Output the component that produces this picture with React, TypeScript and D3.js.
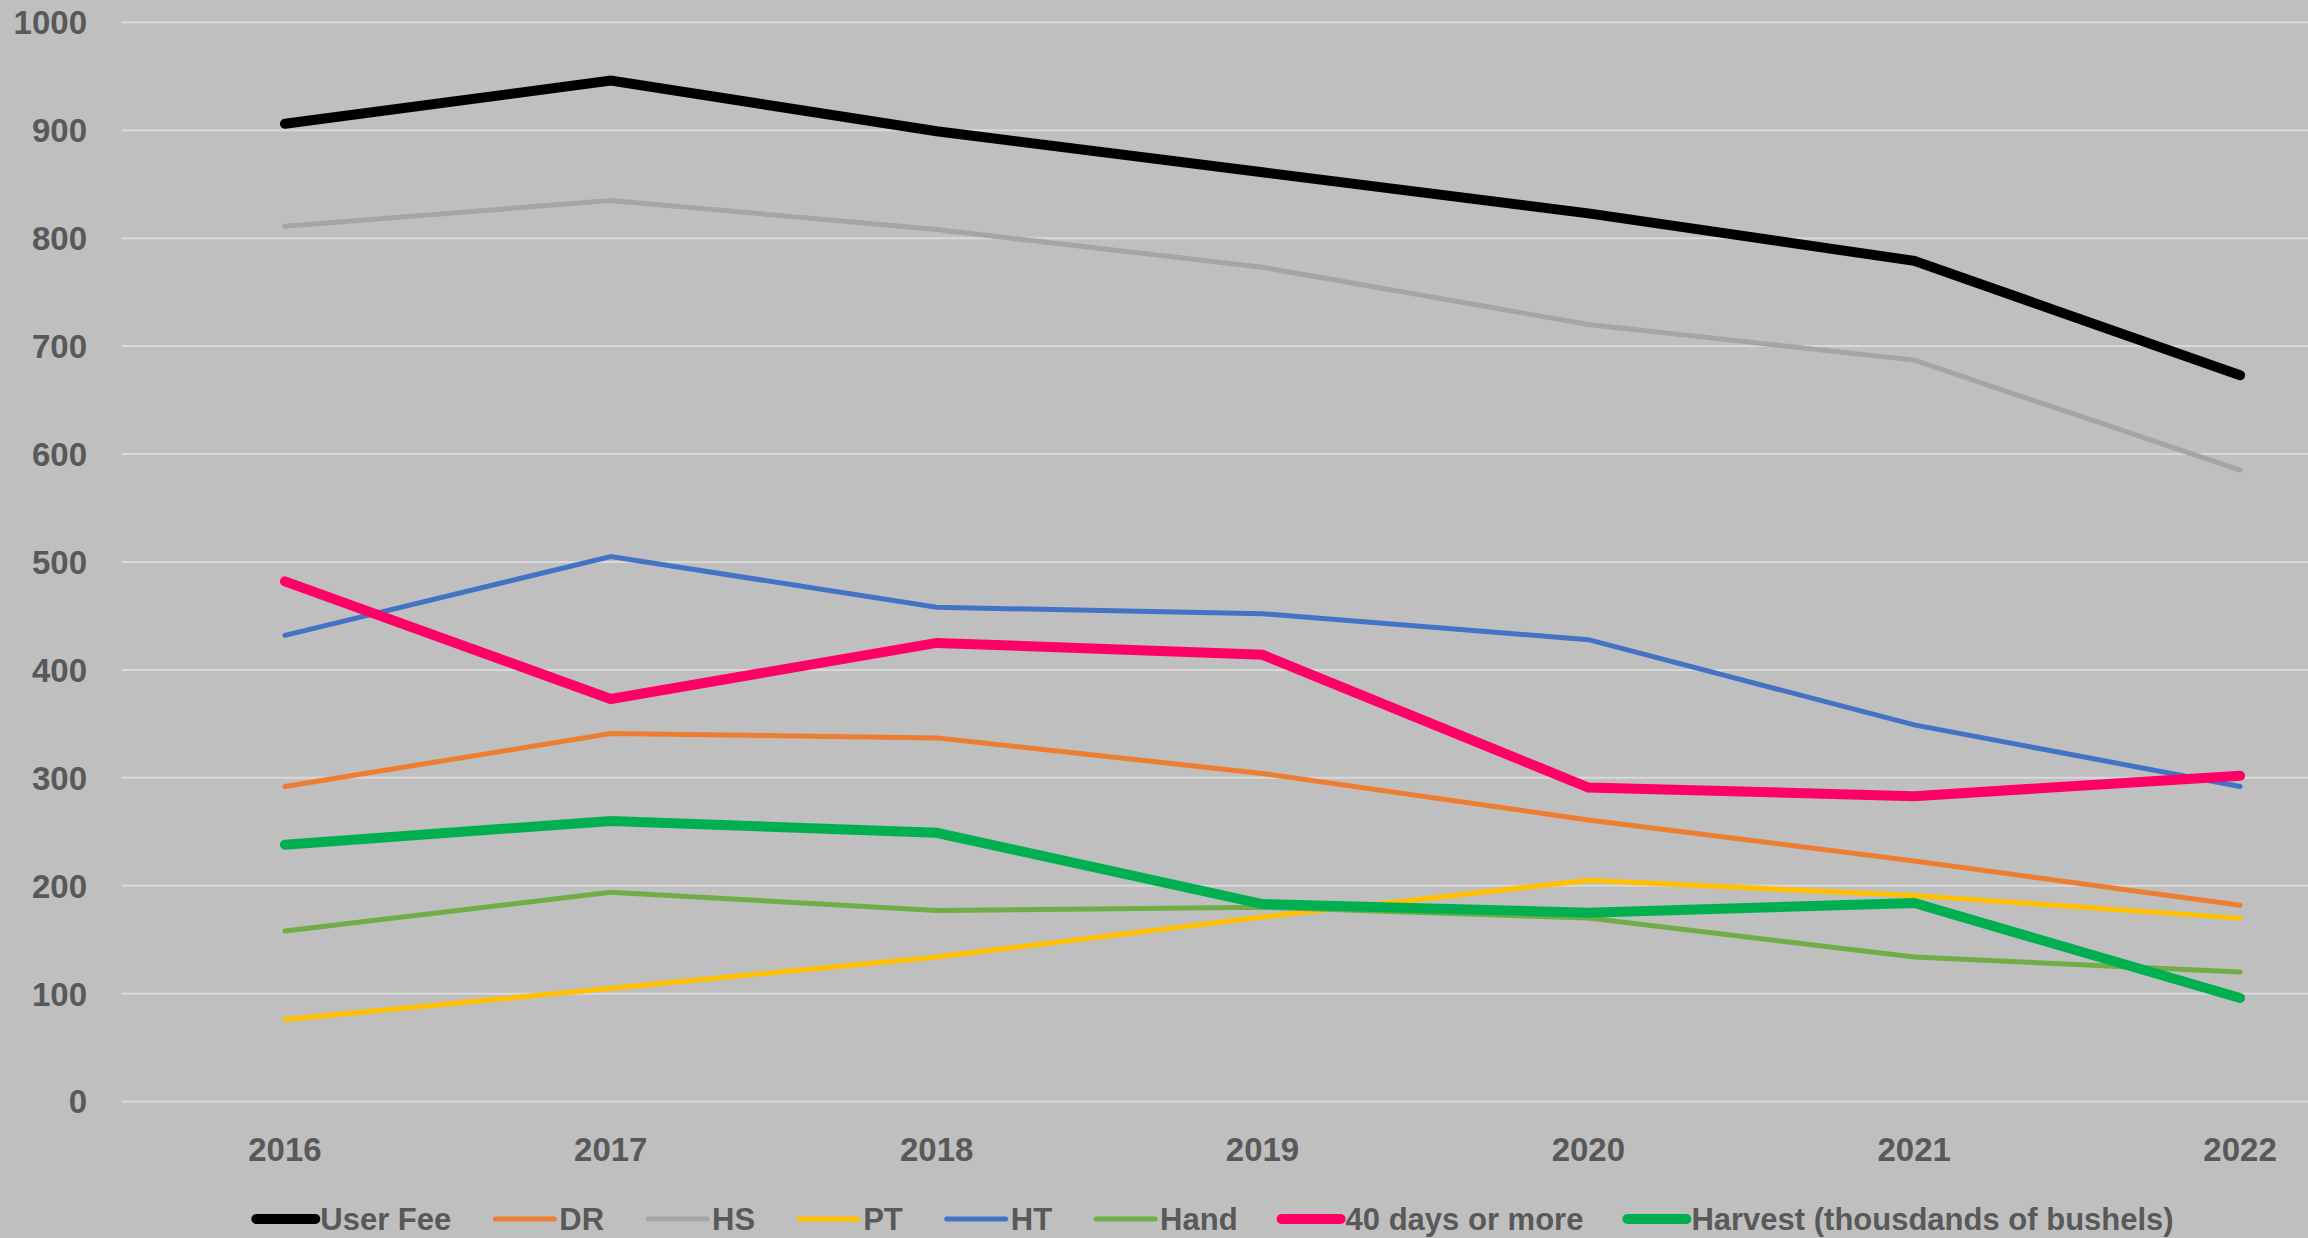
import React, { useEffect, useRef } from "react";
import * as d3 from "d3";

const years = ["2016", "2017", "2018", "2019", "2020", "2021", "2022"];
const yTicks = [0, 100, 200, 300, 400, 500, 600, 700, 800, 900, 1000];

const userFee = [906, 946, 899, 861, 823, 779, 673];
const dr = [292, 341, 337, 304, 261, 223, 182];
const hs = [811, 835, 808, 773, 720, 687, 585];
const pt = [76, 105, 134, 171, 205, 191, 170];
const ht = [432, 505, 458, 452, 428, 349, 292];
const hand = [158, 194, 177, 180, 170, 134, 120];
const days40 = [482, 373, 425, 414, 291, 283, 302];
const harvest = [238, 260, 249, 183, 175, 184, 96];

interface Series {
  name: string;
  values: number[];
  color: string;
  width: number;
}

const series: Series[] = [
  { name: "User Fee", values: userFee, color: "#000000", width: 10 },
  { name: "DR", values: dr, color: "#ED7D31", width: 5 },
  { name: "HS", values: hs, color: "#A5A5A5", width: 5 },
  { name: "PT", values: pt, color: "#FFC000", width: 5 },
  { name: "HT", values: ht, color: "#4472C4", width: 5 },
  { name: "Hand", values: hand, color: "#70AD47", width: 5 },
  { name: "40 days or more", values: days40, color: "#FF0066", width: 10 },
  { name: "Harvest (thousdands of bushels)", values: harvest, color: "#00B050", width: 10 },
];

const W = 2308;
const H = 1238;
const FONT = "'Liberation Sans', Arial, sans-serif";
const TEXT = "#595959";

export default function App(): React.ReactElement {
  const ref = useRef<SVGSVGElement | null>(null);

  useEffect(() => {
    const svg = d3.select(ref.current);
    svg.selectAll("*").remove();

    // plot area runs past the right edge of the picture
    const x = d3.scalePoint<string>().domain(years).range([122, 2403]).padding(0.5);
    const y = d3.scaleLinear().domain([0, 1000]).range([1101.6, 22.3]);

    svg.append("rect").attr("width", W).attr("height", H).attr("fill", "#BFBFBF");

    // gridlines
    svg
      .append("g")
      .selectAll("line")
      .data(yTicks)
      .join("line")
      .attr("x1", 122)
      .attr("x2", 2403)
      .attr("y1", (d) => y(d))
      .attr("y2", (d) => y(d))
      .attr("stroke", "#D9D9D9")
      .attr("stroke-width", 2);

    // y labels
    svg
      .append("g")
      .selectAll("text")
      .data(yTicks)
      .join("text")
      .attr("x", 87)
      .attr("y", (d) => y(d))
      .attr("dy", "0.36em")
      .attr("text-anchor", "end")
      .attr("font-family", FONT)
      .attr("font-weight", "bold")
      .attr("font-size", 33)
      .attr("fill", TEXT)
      .text((d) => d);

    // x labels
    svg
      .append("g")
      .selectAll("text")
      .data(years)
      .join("text")
      .attr("x", (d) => x(d)!)
      .attr("y", 1161)
      .attr("text-anchor", "middle")
      .attr("font-family", FONT)
      .attr("font-weight", "bold")
      .attr("font-size", 33)
      .attr("fill", TEXT)
      .text((d) => d);

    const line = d3
      .line<number>()
      .x((_, i) => x(years[i])!)
      .y((d) => y(d));

    svg
      .append("g")
      .selectAll("path")
      .data(series)
      .join("path")
      .attr("d", (d) => line(d.values))
      .attr("fill", "none")
      .attr("stroke", (d) => d.color)
      .attr("stroke-width", (d) => d.width)
      .attr("stroke-linecap", "round")
      .attr("stroke-linejoin", "miter");

    // legend, laid out from measured text widths
    const legend = svg.append("g");
    const swatch = 59;
    const gapText = 5;
    const gapItem = 44;
    const legendY = 1219;
    const items = legend
      .selectAll("g")
      .data(series)
      .join("g");
    items
      .append("line")
      .attr("x1", 0)
      .attr("x2", swatch)
      .attr("y1", 0)
      .attr("y2", 0)
      .attr("stroke", (d) => d.color)
      .attr("stroke-width", (d) => d.width)
      .attr("stroke-linecap", "round");
    items
      .append("text")
      .attr("x", swatch + gapText)
      .attr("y", 0)
      .attr("dy", "0.36em")
      .attr("font-family", FONT)
      .attr("font-weight", "bold")
      .attr("font-size", 31)
      .attr("fill", TEXT)
      .text((d) => d.name);

    const widths: number[] = [];
    items.select("text").each(function () {
      widths.push((this as SVGTextElement).getComputedTextLength());
    });
    const itemW = widths.map((w) => swatch + gapText + w);
    const total = d3.sum(itemW) + gapItem * (itemW.length - 1);
    let cx = 1215 - total / 2;
    items.attr("transform", (_, i) => {
      const t = `translate(${cx},${legendY})`;
      cx += itemW[i] + gapItem;
      return t;
    });
  }, []);

  return (
    <svg
      ref={ref}
      width={W}
      height={H}
      style={{ position: "absolute", left: 0, top: 0 }}
    ></svg>
  );
}
